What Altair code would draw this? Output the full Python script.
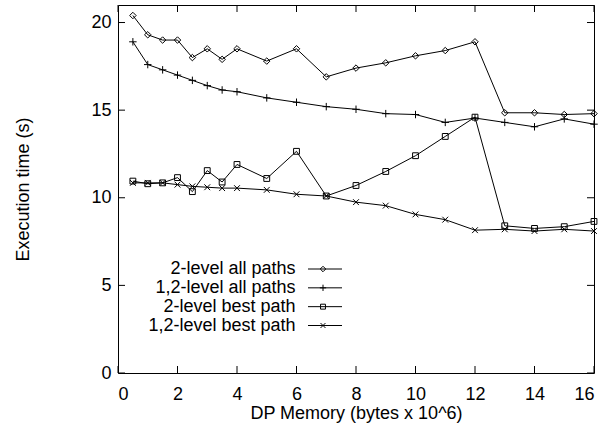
import altair as alt
import pandas as pd

# ---- data ----
memory = [0.5, 1, 1.5, 2, 2.5, 3, 3.5, 4, 5, 6, 7, 8, 9, 10, 11, 12, 13, 14, 15, 16]
two_all = [20.4, 19.3, 19.0, 19.0, 18.0, 18.5, 17.9, 18.5, 17.8, 18.5, 16.9,
           17.4, 17.7, 18.1, 18.4, 18.9, 14.85, 14.85, 14.75, 14.8]
onetwo_all = [18.9, 17.6, 17.3, 17.0, 16.7, 16.4, 16.15, 16.05, 15.7, 15.45, 15.2,
              15.05, 14.8, 14.75, 14.3, 14.55, 14.3, 14.05, 14.5, 14.2]
two_best = [10.95, 10.8, 10.85, 11.15, 10.35, 11.55, 10.9, 11.9, 11.1, 12.65, 10.1,
            10.7, 11.5, 12.4, 13.5, 14.6, 8.4, 8.25, 8.35, 8.65]
onetwo_best = [10.85, 10.85, 10.85, 10.75, 10.65, 10.6, 10.55, 10.55, 10.45, 10.2, 10.1,
               9.75, 9.55, 9.05, 8.75, 8.15, 8.2, 8.1, 8.2, 8.1]
series_names = ["2-level all paths", "1,2-level all paths",
                "2-level best path", "1,2-level best path"]
x_ticks = [0, 2, 4, 6, 8, 10, 12, 14, 16]
y_ticks = [0, 5, 10, 15, 20]

rows = []
for name, vals in zip(series_names, [two_all, onetwo_all, two_best, onetwo_best]):
    for m, v in zip(memory, vals):
        rows.append({"series": name, "mem": m, "time": v})
df = pd.DataFrame(rows)
legend_df = pd.DataFrame({"series": series_names, "row": list(range(len(series_names)))})
xt_df = pd.DataFrame({"t": x_ticks})
yt_df = pd.DataFrame({"t": y_ticks})

W, H = 476, 368
FONT = "Liberation Sans"

diamond = "M-1,0L0,-1L1,0L0,1Z"
plus = "M-1.15,0H1.15M0,-1.15V1.15"
square = "M-0.9,-0.9H0.9V0.9H-0.9Z"
xmark = "M-0.9,-0.9L0.9,0.9M-0.9,0.9L0.9,-0.9"
shape_scale = alt.Scale(domain=series_names, range=[diamond, plus, square, xmark])

xs = alt.Scale(domain=[0, 16], nice=False, zero=False)
ys = alt.Scale(domain=[0, 21], nice=False)

x_enc = alt.X("mem:Q", scale=xs, title="DP Memory (bytes x 10^6)",
              axis=alt.Axis(values=x_ticks, format="d", tickSize=0, domain=False, grid=False,
                            labelPadding=12, titlePadding=1))
y_enc = alt.Y("time:Q", scale=ys, title="Execution time (s)",
              axis=alt.Axis(values=y_ticks, format="d", tickSize=0, domain=False, grid=False,
                            labelPadding=7, titlePadding=58))

base = alt.Chart(df)
lines = base.mark_line(color="black", strokeWidth=1).encode(
    x=x_enc, y=y_enc, detail="series:N")
points = base.mark_point(filled=False, color="black", strokeWidth=1, size=42, opacity=1).encode(
    x=alt.X("mem:Q", scale=xs), y=alt.Y("time:Q", scale=ys),
    shape=alt.Shape("series:N", scale=shape_scale, legend=None))

tick_len = 7
xt_bottom = alt.Chart(xt_df).mark_rule(color="black", strokeWidth=1).encode(
    x=alt.X("t:Q", scale=xs), y=alt.value(H), y2=alt.value(H - tick_len))
xt_top = alt.Chart(xt_df).mark_rule(color="black", strokeWidth=1).encode(
    x=alt.X("t:Q", scale=xs), y=alt.value(0), y2=alt.value(tick_len))
yt_left = alt.Chart(yt_df).mark_rule(color="black", strokeWidth=1).encode(
    y=alt.Y("t:Q", scale=ys), x=alt.value(0), x2=alt.value(tick_len))
yt_right = alt.Chart(yt_df).mark_rule(color="black", strokeWidth=1).encode(
    y=alt.Y("t:Q", scale=ys), x=alt.value(W), x2=alt.value(W - tick_len))

data_layer = alt.layer(lines, points, xt_bottom, xt_top, yt_left, yt_right)

ly = alt.Y("row:Q", scale=alt.Scale(domain=[0, 3], range=[264, 320.5]), axis=None)
leg = alt.Chart(legend_df)
leg_text = leg.mark_text(align="right", baseline="middle", font=FONT, fontSize=18,
                         color="black").encode(x=alt.value(177.5), y=ly, text="series:N")
leg_rule = leg.mark_rule(color="black", strokeWidth=1).encode(
    x=alt.value(190), x2=alt.value(224), y=ly)
leg_pts = leg.mark_point(filled=False, color="black", strokeWidth=1, size=30, opacity=1).encode(
    x=alt.value(205), y=ly,
    shape=alt.Shape("series:N", scale=shape_scale, legend=None))
legend_layer = alt.layer(leg_text, leg_rule, leg_pts)

chart = alt.layer(data_layer, legend_layer).resolve_scale(y="independent").properties(
    width=W, height=H,
    autosize=alt.AutoSizeParams(type="none"),
    padding={"left": 118, "top": 5, "right": 21, "bottom": 51},
    background="white",
).configure_view(stroke="black", strokeWidth=1).configure_axis(
    labelFont=FONT, titleFont=FONT, labelFontSize=18, titleFontSize=18,
    labelColor="black", titleColor="black", titleFontWeight="normal",
)

chart.save("out.html", embed_options={"renderer": "svg", "actions": False})
